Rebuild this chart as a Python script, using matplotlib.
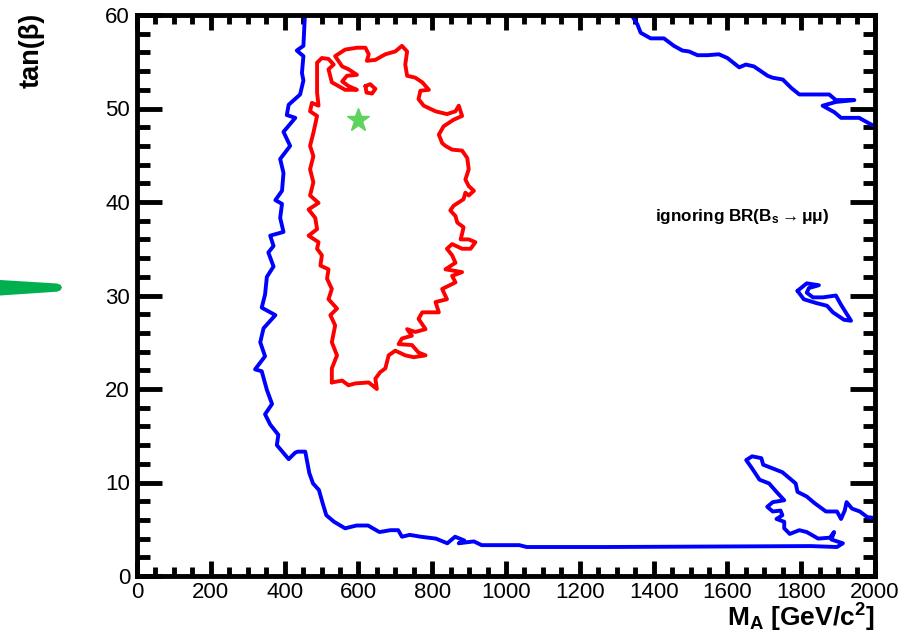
import matplotlib
matplotlib.use("Agg")
import matplotlib.pyplot as plt
from matplotlib.ticker import MultipleLocator
from matplotlib.patches import Polygon

plt.rcParams['font.family'] = ['Liberation Sans', 'DejaVu Sans']
plt.rcParams['mathtext.fontset'] = 'custom'
plt.rcParams['mathtext.rm'] = 'Liberation Sans'
plt.rcParams['mathtext.bf'] = 'Liberation Sans:bold'
plt.rcParams['mathtext.it'] = 'Liberation Sans:italic'

# ---- axis ticks ----
x_ticks = [0, 200, 400, 600, 800, 1000, 1200, 1400, 1600, 1800, 2000]
x_tick_labels = ["0", "200", "400", "600", "800", "1000", "1200", "1400", "1600", "1800", "2000"]
y_ticks = [0, 10, 20, 30, 40, 50, 60]
y_tick_labels = ["0", "10", "20", "30", "40", "50", "60"]

# ---- blue contour: open line from the top edge, down the left, along the bottom,
#      around the lower-right lobe, out to the right edge ----
blue_main_ma = [455, 451, 433, 451, 447, 451, 442, 411, 406, 429, 397, 415, 388, 397, 393,
                375, 393, 388, 397, 361, 370, 356, 370, 352, 347, 338, 375, 343, 334, 347,
                320, 338, 352, 366, 347, 361, 383, 379, 411, 429, 436, 456, 467, 477, 493,
                503, 513, 534, 564, 595, 626, 657, 687, 708, 718, 739, 769, 810, 841, 862,
                887, 872, 913, 934, 1036, 1056, 1221, 1272, 1826, 1897, 1913, 1882, 1889, 1878, 1846,
                1815, 1795, 1769, 1754, 1754, 1733, 1749, 1744, 1723, 1708, 1723, 1754, 1733, 1713, 1687,
                1667, 1651, 1667, 1692, 1697, 1723, 1749, 1785, 1790, 1815, 1836, 1867, 1897, 1908, 1918,
                1923, 1938, 1959, 1979, 2000]
blue_main_tanb = [60.0, 56.7, 56.2, 55.6, 53.8, 53.0, 51.5, 50.4, 49.3, 49.0, 47.5, 46.0, 44.6, 43.1, 41.2,
                  40.2, 39.8, 38.3, 36.8, 36.4, 35.3, 34.6, 33.1, 32.0, 30.1, 28.7, 27.9, 26.5, 25.0, 23.5,
                  22.1, 21.9, 19.9, 18.4, 17.3, 16.2, 15.1, 14.0, 12.5, 13.2, 13.3, 13.3, 11.0, 9.9, 9.2,
                  7.8, 6.5, 5.8, 5.1, 5.4, 5.4, 4.7, 4.9, 4.9, 4.2, 4.4, 4.2, 4.0, 3.5, 4.2,
                  3.8, 3.5, 3.7, 3.3, 3.3, 3.1, 3.1, 3.1, 3.2, 3.1, 3.5, 3.9, 4.7, 4.1, 4.0,
                  4.7, 4.9, 4.5, 5.1, 5.8, 6.1, 6.5, 7.0, 6.9, 7.4, 7.9, 8.1, 9.0, 9.9, 10.3,
                  11.5, 12.4, 12.8, 12.6, 11.9, 11.5, 11.1, 9.9, 9.0, 8.5, 7.8, 6.9, 6.9, 6.1, 7.0,
                  7.9, 7.2, 6.9, 6.3, 6.2]

# ---- blue contour: upper-right branch ----
blue_top_ma = [1340, 1356, 1365, 1392, 1428, 1455, 1478, 1496, 1519, 1546, 1577, 1600, 1632, 1650, 1672,
               1709, 1722, 1750, 1773, 1795, 1876, 1894, 1944, 1894, 1858, 1890, 1908, 1957, 1989, 2000]
blue_top_tanb = [60.0, 59.0, 58.1, 57.5, 57.5, 56.7, 56.2, 56.1, 55.7, 55.7, 55.8, 55.4, 54.4, 54.7, 54.5,
                 53.5, 53.3, 53.1, 52.2, 51.5, 51.5, 50.9, 50.9, 50.7, 50.3, 49.6, 49.0, 49.0, 48.3, 48.1]

# ---- blue contour: small island near tan(beta) = 30 ----
blue_island_ma = [1790, 1815, 1848, 1821, 1815, 1832, 1859, 1894, 1908, 1935, 1916, 1886, 1870, 1840, 1807, 1790]
blue_island_tanb = [30.5, 31.3, 31.1, 30.8, 30.3, 29.8, 29.8, 30.0, 29.0, 27.3, 27.4, 28.2, 28.9, 29.2, 29.6, 30.5]

# ---- red contour (closed) ----
red_ma = [528, 528, 542, 528, 537, 524, 542, 519, 528, 515, 519, 497, 501, 488, 492, 465,
          488, 483, 465, 492, 469, 478, 469, 478, 469, 478, 488, 469, 474, 492, 488, 488,
          501, 519, 533, 519, 528, 564, 596, 573, 556, 569, 596, 573, 556, 537, 564, 596,
          619, 628, 623, 646, 673, 700, 718, 732, 727,
          732, 754, 773, 791, 768, 763, 777, 809, 840, 863, 872, 881, 858, 831, 818, 827,
          836, 854, 881, 895, 899, 890, 899, 913, 899, 890, 885, 858, 849, 863, 868, 885,
          881, 877, 899, 917, 904, 881, 854, 840, 854, 863, 836, 881, 854, 863, 827, 840,
          809, 818, 773, 763, 782, 754, 732, 745, 718, 709, 745, 763, 782, 750, 727, 700,
          682, 673, 659, 646, 650, 628, 592, 573, 556, 528]
red_tanb = [20.7, 22.2, 23.6, 25.0, 26.8, 27.9, 28.6, 29.6, 30.7, 31.8, 32.8, 33.2, 34.3, 35.0, 35.7, 36.4,
            37.1, 38.3, 39.2, 39.9, 40.7, 42.1, 43.5, 44.9, 46.0, 47.4, 49.2, 49.7, 50.6, 50.3, 51.7, 54.9,
            55.4, 55.3, 54.7, 54.2, 52.8, 52.0, 52.0, 52.4, 52.9, 53.5, 53.6, 54.2, 54.5, 55.6, 56.3, 56.5,
            56.5, 55.8, 55.1, 55.2, 55.8, 56.1, 56.7, 56.1, 54.7,
            53.5, 53.3, 52.8, 52.0, 51.9, 51.0, 50.3, 49.7, 49.4, 49.7, 50.3, 49.2, 48.8, 48.1, 47.2, 46.3,
            46.0, 45.6, 45.5, 44.7, 43.5, 42.4, 41.7, 41.2, 40.7, 41.0, 40.3, 39.6, 39.1, 38.5, 37.8, 37.3,
            36.6, 36.0, 36.0, 35.7, 35.0, 35.0, 35.5, 35.0, 34.3, 33.5, 32.8, 32.5, 32.1, 31.4, 30.7, 29.6,
            29.3, 28.2, 28.2, 27.5, 26.4, 26.1, 26.4, 25.7, 25.4, 24.8, 24.7, 23.9, 23.6, 23.4, 23.6, 24.1,
            23.6, 22.2, 21.8, 21.1, 20.0, 20.7, 20.6, 20.4, 20.9, 20.7]

# small closed ring inside the top of the red contour
red_ring_ma = [619, 632, 646, 637, 622, 619]
red_ring_tanb = [52.4, 52.6, 52.1, 51.6, 51.7, 52.4]

# best-fit point
best_ma = [600]
best_tanb = [48.8]

BLUE = "#0000ff"
RED = "#ff0000"
STAR = "#5ed35e"
ARROW = "#00b04f"

fig = plt.figure(figsize=(9.13, 6.41), dpi=100)
fig.patch.set_facecolor("white")
ax = fig.add_axes([137 / 913, 65 / 641, 738 / 913, 561 / 641])

line_kw = dict(lw=2.8, solid_joinstyle="round", solid_capstyle="round")
ax.plot(blue_main_ma, blue_main_tanb, color=BLUE, **line_kw)
ax.plot(blue_top_ma, blue_top_tanb, color=BLUE, **line_kw)
ax.plot(blue_island_ma, blue_island_tanb, color=BLUE, **line_kw)
ax.plot(red_ma, red_tanb, color=RED, **line_kw)
ax.plot(red_ring_ma, red_ring_tanb, color=RED, **line_kw)
ax.plot(best_ma, best_tanb, ls="none", marker="*", ms=17, color=STAR, mec=STAR)

ax.text(1403, 38.5, r"ignoring BR(B$_{\mathbf{s}}$$\rightarrow$μμ)", fontsize=12.3, fontweight="bold",
        ha="left", va="center", color="black")

ax.set_xlim(0, 2000)
ax.set_ylim(0, 60)
ax.set_xticks(x_ticks)
ax.set_xticklabels(x_tick_labels)
ax.set_yticks(y_ticks)
ax.set_yticklabels(y_tick_labels)
ax.xaxis.set_minor_locator(MultipleLocator(50))
ax.yaxis.set_minor_locator(MultipleLocator(2))

ax.tick_params(which="both", direction="in", top=True, right=True, width=3.5,
               labelsize=16, colors="black")
ax.tick_params(axis="x", which="major", length=11, pad=4)
ax.tick_params(axis="x", which="minor", length=6.5)
ax.tick_params(axis="y", which="major", length=18, pad=5)
ax.tick_params(axis="y", which="minor", length=9)
for sp in ax.spines.values():
    sp.set_linewidth(3.5)
    sp.set_color("black")

# axis titles
fig.text(32 / 913, 1 - 13 / 641, "tan(β)", rotation=90, ha="center", va="top",
         fontsize=19.5, fontweight="bold")
fig.text(875 / 913, 1 - 627 / 641, r"$\mathbf{M_{A}}$ [GeV/c$^{\mathbf{2}}$]", ha="right",
         va="baseline", fontsize=19, fontweight="bold")

# green pointer on the left margin
W, H = 913.0, 641.0
pointer = [(0, 280), (57, 283.5), (60.5, 284.8), (62, 287.5), (60.5, 290.3), (57, 291.7), (0, 295.5)]
fig.patches.append(Polygon([(x / W, 1 - y / H) for x, y in pointer], closed=True,
                           transform=fig.transFigure, facecolor=ARROW, edgecolor="none"))

fig.savefig("out.png", dpi=100, facecolor="white")
